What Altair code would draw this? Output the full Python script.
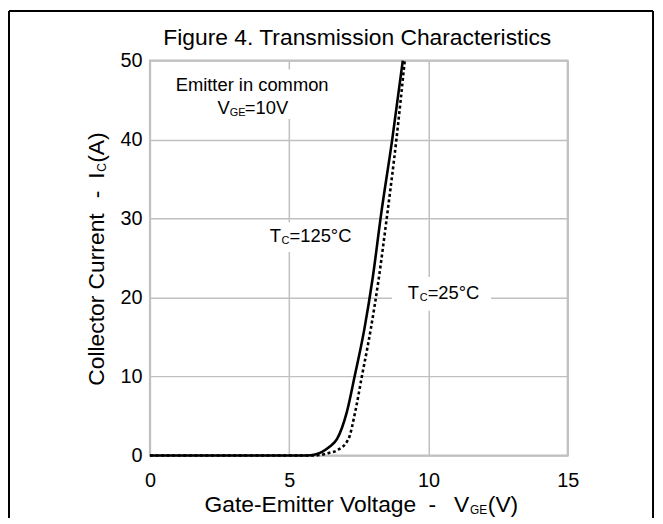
import altair as alt
import pandas as pd

# ---- data ----
vge_125 = [0, 5.5, 5.78, 6.0, 6.2, 6.45, 6.72, 7.07, 7.35, 7.7, 8.0, 8.3, 8.7, 9.08]
ic_125 = [0, 0, 0.04, 0.2, 0.5, 1.1, 2.1, 5.5, 10, 16, 22.5, 30.5, 40, 50]
vge_25 = [0, 5.8, 6.02, 6.25, 6.45, 6.72, 7.13, 7.37, 7.61, 7.93, 8.2, 8.52, 8.85, 9.15]
ic_25 = [0, 0, 0.03, 0.15, 0.35, 0.65, 2.1, 5.5, 10, 16, 22, 30.5, 40, 50]
x_ticks = [0, 5, 10, 15]
y_ticks = [0, 10, 20, 30, 40, 50]

FONT = "Liberation Sans"
W, H = 421, 398

df125 = pd.DataFrame({"v": vge_125, "i": ic_125})
df25 = pd.DataFrame({"v": vge_25, "i": ic_25})
one = pd.DataFrame({"k": [0]})

xscale = alt.Scale(domain=[0, 15], nice=False, zero=False)
yscale = alt.Scale(domain=[0, 50], nice=False, zero=False)
xaxis = alt.Axis(values=x_ticks, title=None, grid=True, gridColor="#c0c0c0", gridWidth=1.5,
                 domain=False, ticks=False, labelFontSize=20, labelFont=FONT, labelColor="black",
                 labelPadding=15, labelFlush=False, labelOverlap=False, format="d")
yaxis = alt.Axis(values=y_ticks, title=None, grid=True, gridColor="#c0c0c0", gridWidth=1.5,
                 domain=False, ticks=False, labelFontSize=20, labelFont=FONT, labelColor="black",
                 labelPadding=8, labelOverlap=False, format="d")


def X(f):
    return alt.X(f, type="quantitative", scale=xscale, axis=xaxis)


def Y(f):
    return alt.Y(f, type="quantitative", scale=yscale, axis=yaxis)


def ptext(text, x, y, size, align="left", angle=0):
    return alt.Chart(one).mark_text(text=text, font=FONT, fontSize=size, align=align,
                                    baseline="alphabetic", angle=angle, color="black").encode(
        x=alt.value(x), y=alt.value(y))


# outer frame
frame = [
    alt.Chart(one).mark_rule(color="black", strokeWidth=2).encode(
        x=alt.value(-142), y=alt.value(-50), y2=alt.value(H + 63)),
    alt.Chart(one).mark_rule(color="black", strokeWidth=2).encode(
        x=alt.value(507), y=alt.value(-50), y2=alt.value(H + 63)),
    alt.Chart(one).mark_rule(color="black", strokeWidth=2).encode(
        x=alt.value(-142), x2=alt.value(507), y=alt.value(-50)),
]

# white label boxes
boxes_df = pd.DataFrame({"x1": [0.68, 3.95, 8.69], "x2": [6.73, 7.52, 12.25],
                         "y1": [48.87, 29.52, 22.61], "y2": [42.59, 25.75, 18.34]})
boxes = alt.Chart(boxes_df).mark_rect(fill="white").encode(
    x=X("x1"), x2="x2", y=Y("y1"), y2="y2")

line125 = alt.Chart(df125).mark_line(color="black", strokeWidth=2.6, interpolate="monotone").encode(
    x=X("v"), y=Y("i"))
line25 = alt.Chart(df25).mark_line(color="black", strokeWidth=2.6, strokeDash=[3, 2.6],
                                   interpolate="monotone").encode(x=X("v"), y=Y("i"))

# annotations (data-unit anchors)
ann1 = pd.DataFrame({"t": ["Emitter in common"], "x": [3.67], "y": [46.2]})
ann_v = pd.DataFrame({"a": ["V"], "s": ["GE"], "r": ["=10V"], "x": [2.43], "y": [43.18]})
ann_t = pd.DataFrame({"a": ["T", "T"], "s": ["C", "C"], "r": ["=125°C", "=25°C"],
                      "x": [4.30, 9.26], "y": [26.97, 19.85]})


def seg(df, field, size, dx=0, dy=0, align="left"):
    return alt.Chart(df).mark_text(font=FONT, fontSize=size, align=align, baseline="alphabetic",
                                   dx=dx, dy=dy, color="black").encode(
        x=X("x"), y=Y("y"), text=alt.Text(field))


annots = [
    seg(ann1, "t", 18.5, align="center"),
    seg(ann_v, "a", 18.5), seg(ann_v, "s", 11, dx=12.2, dy=2), seg(ann_v, "r", 18.5, dx=27.5),
    seg(ann_t, "a", 18.5), seg(ann_t, "s", 11, dx=12.0, dy=2), seg(ann_t, "r", 18.5, dx=20),
]

titles = [
    ptext("Figure 4. Transmission Characteristics", 209, -16, 23, "center"),
    ptext("Gate-Emitter Voltage", 55, 455, 23),
    ptext("-", 284.5, 455, 23, "center"),
    ptext("V", 306.5, 455, 23),
    ptext("GE", 322.5, 457, 12),
    ptext("(V)", 340.5, 455, 23),
    ptext("Collector Current", -46, 327.7, 23, angle=270),
    ptext("-", -46, 135, 23, "center", angle=270),
    ptext("I", -46, 119, 23, angle=270),
    ptext("C", -44, 112, 12, angle=270),
    ptext("(A)", -46, 103, 23, angle=270),
]

chart = alt.layer(*frame, boxes, line25, line125, *annots, *titles).properties(
    width=W, height=H,
    padding={"left": 143, "top": 51, "right": 88, "bottom": 63},
    autosize=alt.AutoSizeParams(type="none"),
).configure_view(stroke="#c0c0c0", strokeWidth=2)

chart.save("out.html", embed_options={"renderer": "svg", "actions": False})
